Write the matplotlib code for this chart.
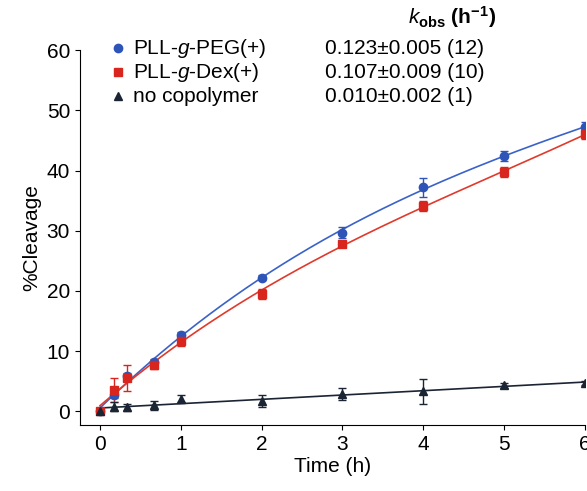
import matplotlib
matplotlib.use("Agg")
import matplotlib.pyplot as plt
from matplotlib.lines import Line2D
import numpy as np

t = [0, 0.17, 0.33, 0.67, 1, 2, 3, 4, 5, 6]
peg = [0, 2.7, 5.8, 8.2, 12.7, 22.2, 29.7, 37.2, 42.4, 47.2]
peg_err = [0.3, 0.5, 0.6, 0.5, 0.5, 0.4, 0.9, 1.6, 0.8, 0.8]
dex = [0, 3.5, 5.5, 7.7, 11.7, 19.5, 27.8, 34.1, 39.7, 46.0]
dex_err = [0.3, 2.0, 2.2, 0.6, 0.8, 0.9, 0.5, 0.8, 0.8, 0.8]
noc = [0, 0.8, 0.7, 1.0, 2.1, 1.7, 2.9, 3.3, 4.3, 4.7]
noc_err = [0.3, 0.8, 0.6, 0.8, 0.6, 1.0, 1.0, 2.0, 0.4, 0.4]
labels = ["PLL-$g$-PEG(+)", "PLL-$g$-Dex(+)", "no copolymer"]
kobs = ["0.123±0.005 (12)", "0.107±0.009 (10)", "0.010±0.002 (1)"]

plt.rcParams['font.family'] = ['Liberation Sans', 'DejaVu Sans']
plt.rcParams['mathtext.fontset'] = 'custom'
plt.rcParams['mathtext.it'] = 'Liberation Sans:italic'
plt.rcParams['mathtext.rm'] = 'Liberation Sans'
plt.rcParams['mathtext.bf'] = 'Liberation Sans:bold'
fig = plt.figure(figsize=(5.87, 4.91), dpi=100)
ax = fig.add_axes([0.136, 0.134, 0.86, 0.764])
ts = np.linspace(0, 6, 200)
specs = [(peg, peg_err, '#2e54b8', 'o', '#3a62c8'),
         (dex, dex_err, '#d8261e', 's', '#e03a2c'),
         (noc, noc_err, '#1a2433', '^', '#1a2433')]
for (y, e, c, m, lc) in specs:
    deg = 3 if y is not noc else 1
    p = np.polyfit(t, y, deg)
    ax.plot(ts, np.polyval(p, ts), color=lc, lw=1.2)
    ax.errorbar(t, y, yerr=e, fmt=m, color=c, ms=6, capsize=3, elinewidth=1)
ax.set_xlim(-0.25, 6)
ax.set_ylim(-2.3, 60)
ax.set_xticks(range(7))
ax.set_yticks(range(0, 61, 10))
ax.tick_params(labelsize=15, direction='out')
for s in ['top', 'right']:
    ax.spines[s].set_visible(False)
ax.set_xlabel("Time (h)", fontsize=15, labelpad=2)
ax.set_ylabel("%Cleavage", fontsize=15)
for i, ((y, e, c, m, lc), lab, k) in enumerate(zip(specs, labels, kobs)):
    yy = 1.005 - i * 0.064
    ax.plot([0.075], [yy], marker=m, color=c, ms=6, transform=ax.transAxes, clip_on=False)
    ax.text(0.105, yy, lab, transform=ax.transAxes, fontsize=15, va='center')
    ax.text(0.485, yy, k, transform=ax.transAxes, fontsize=15, va='center')
ax.text(0.65, 1.088, "$\\mathbf{\\mathit{k}}_{\\mathbf{obs}}$ (h$^{\\mathbf{-1}}$)", transform=ax.transAxes,
        fontsize=15, fontweight='bold', ha='left', va='center')
fig.savefig("out.png")
